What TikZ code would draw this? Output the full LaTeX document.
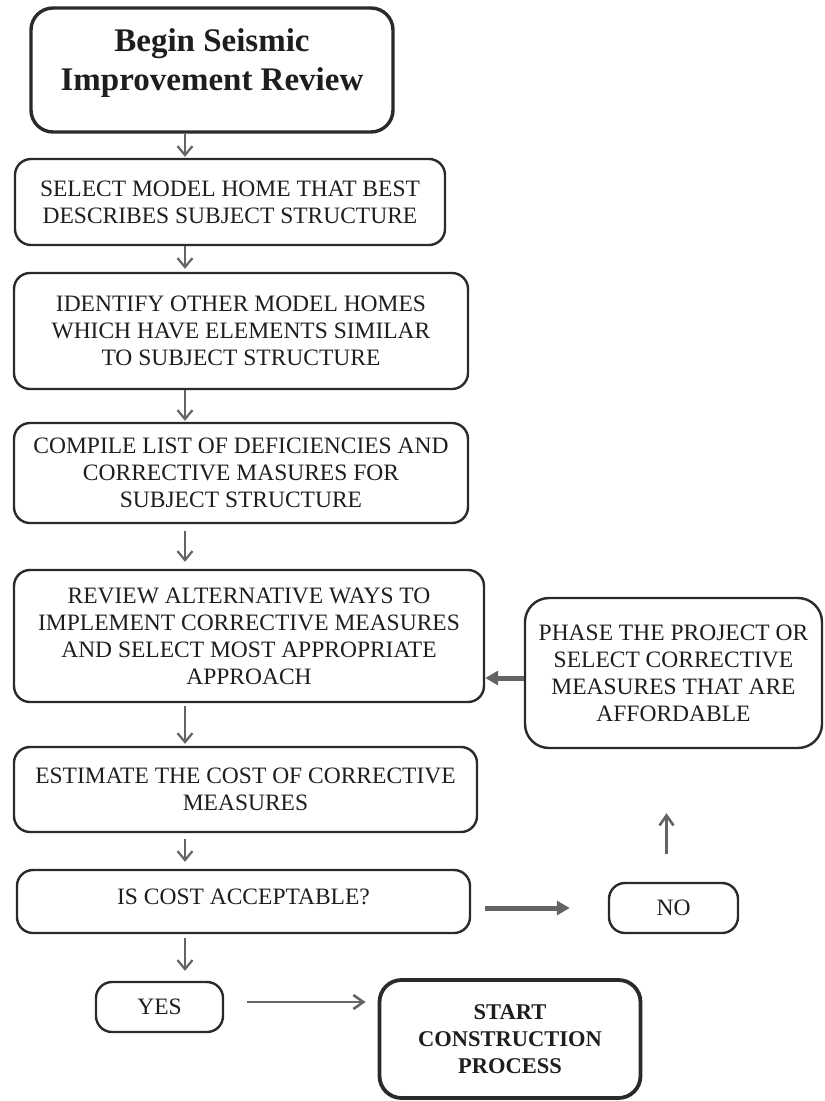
\documentclass[tikz,border=0pt]{standalone}
\usepackage{fontspec}
\setmainfont{Liberation Serif}
\usetikzlibrary{arrows.meta,positioning}
\definecolor{boxline}{HTML}{2A2A2A}
\definecolor{arrowgray}{HTML}{646464}
\definecolor{inkgray}{HTML}{1E1E1E}
\tikzstyle{stepbox}=[rectangle,rounded corners=16pt,draw=boxline,line width=2.4pt,align=center,text=inkgray,font=\fontsize{23.5}{27}\selectfont,inner sep=0pt]
\tikzstyle{endbox}=[stepbox,line width=3.8pt,rounded corners=22pt,font=\bfseries\fontsize{22.5}{27}\selectfont]
\tikzstyle{downedge}=[draw=arrowgray,line width=2.2pt,-{Straight Barb[length=9pt,width=15pt]}]
\tikzstyle{thinedge}=[draw=arrowgray,line width=2.6pt,-{Straight Barb[length=10pt,width=14pt]}]
\tikzstyle{thickedge}=[draw=arrowgray,line width=5pt,-{Triangle[length=13pt,width=14pt]}]
\begin{document}
\begin{tikzpicture}[x=1pt,y=-1pt]
    \useasboundingbox (0,0) rectangle (825,1101);

    \node[endbox,line width=3.4pt,font=\bfseries\fontsize{33}{39}\selectfont,text depth=20pt,minimum width=362pt,minimum height=124pt] (begin) at (212,70) {Begin Seismic\\Improvement Review};

    \foreach \pos/\name/\bw/\bh/\txt in {{(230,202)/select/430/86/{SELECT MODEL HOME THAT BEST\\DESCRIBES SUBJECT STRUCTURE}},
        {(241,331)/identify/454/116/{IDENTIFY OTHER MODEL HOMES\\WHICH HAVE ELEMENTS SIMILAR\\TO SUBJECT STRUCTURE}},
        {(241,473)/compile/454/100/{COMPILE LIST OF DEFICIENCIES AND\\CORRECTIVE MASURES FOR\\SUBJECT STRUCTURE}},
        {(249,636)/review/470/132/{REVIEW ALTERNATIVE WAYS TO\\IMPLEMENT CORRECTIVE MEASURES\\AND SELECT MOST APPROPRIATE\\APPROACH}},
        {(245.5,789.5)/estimate/463/85/{ESTIMATE THE COST OF CORRECTIVE\\MEASURES}},
        {(159.5,1007)/yes/127/50/{YES}},
        {(673.5,908)/no/129/50/{NO}}}
        \node[stepbox,minimum width=\bw pt,minimum height=\bh pt] (\name) at \pos {\txt};

    \node[stepbox,text depth=10pt,minimum width=453pt,minimum height=63pt] (iscost) at (243.5,901.5) {IS COST ACCEPTABLE?};
    \node[stepbox,rounded corners=24pt,minimum width=297pt,minimum height=150pt] (phase) at (673.5,673) {PHASE THE PROJECT OR\\SELECT CORRECTIVE\\MEASURES THAT ARE\\AFFORDABLE};
    \node[endbox,minimum width=261pt,minimum height=118pt] (start) at (510,1039) {START\\CONSTRUCTION\\PROCESS};

    % Connect steps down the left column
    \coordinate (spine) at (185,0);
    \foreach \source/ \dest/\ga/\gb in {begin/select/0/1, select/identify/0/3, identify/compile/0/1, compile/review/7/7, review/estimate/3/2, estimate/iscost/6/7, iscost/yes/4/10}
        \path[downedge,shorten <=\ga pt,shorten >=\gb pt] (\source.south -| spine) -- (\dest.north -| spine);

    \path[thickedge,shorten <=14pt,shorten >=38pt] (iscost.east |- no) -- (no.west);
    \path[thinedge,shorten <=28pt,shorten >=64pt] ([xshift=-7pt]no.north) -- ([xshift=-7pt]no.north |- phase.south);
    \path[thickedge] ([yshift=-5pt]phase.west) -- ([yshift=-5pt]phase.west -| review.east);
    \path[thinedge,shorten <=23pt,shorten >=12pt] ([yshift=5pt]yes.east) -- ([yshift=5pt]yes.east -| start.west);

\end{tikzpicture}
\end{document}
